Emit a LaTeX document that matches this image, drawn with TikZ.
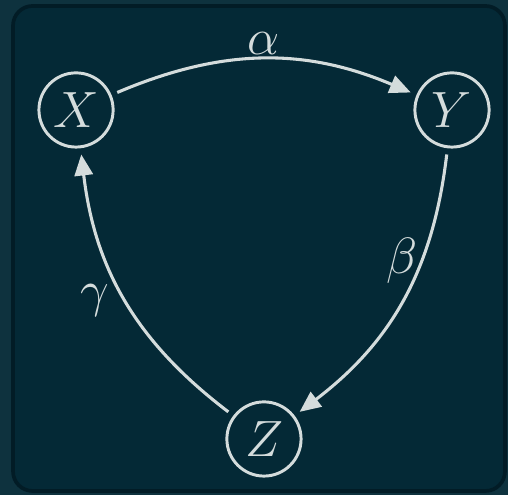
\documentclass[tikz,border=0pt]{standalone}
\usetikzlibrary{arrows.meta}
\definecolor{bgouter}{RGB}{14,50,62}
\definecolor{bginner}{RGB}{4,41,54}
\definecolor{bgshade}{RGB}{2,28,38}
\definecolor{chalk}{RGB}{212,220,220}
\begin{document}
\begin{tikzpicture}[
  state/.style={circle, draw=chalk, line width=1.2pt, minimum size=1.06cm, inner sep=0pt, outer sep=0.11cm, text=chalk, font=\huge},
  trans/.style={chalk, line width=1.25pt, -{Triangle[length=0.3cm,width=0.26cm]}, bend left=23},
  lbl/.style={text=chalk, font=\huge, inner sep=1pt}]
\def\panelW{7.257};
\def\panelH{7.071};
% panel
\fill[bgouter] (0,0) rectangle (\panelW,\panelH);
\filldraw[fill=bginner, draw=bgshade, line width=1.5pt, rounded corners=0.28cm] (0.186,0.057) rectangle (7.214,6.986);
% states
\node[state] (X) at (1.086,5.5) {$X$};
\node[state] (Y) at (6.457,5.5) {$Y$};
\node[state] (Z) at (3.771,0.8) {$Z$};
% transitions
\draw[trans] (X) to node[lbl, above] {$\alpha$} (Y);
\draw[trans] (Y) to node[lbl, pos=0.35, left] {$\beta$} (Z);
\draw[trans] (Z) to node[lbl, left=5pt] {$\gamma$} (X);
\end{tikzpicture}
\end{document}
